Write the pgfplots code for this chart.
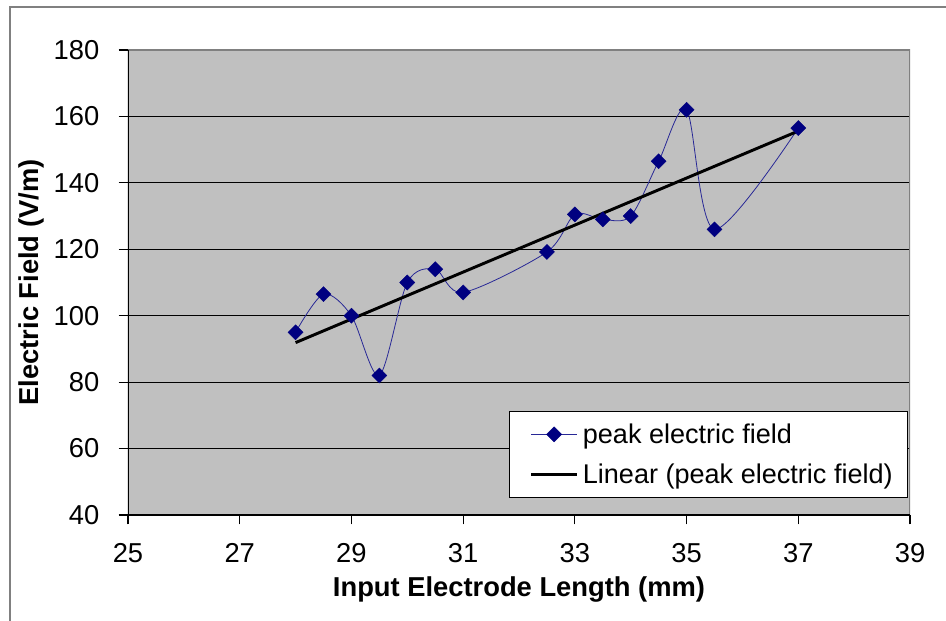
\documentclass[border=0pt]{standalone}
\usepackage{pgfplots}
\pgfplotsset{compat=1.18}
\usepackage{fontspec}
\setmainfont{Liberation Sans}
\definecolor{navyc}{RGB}{0,0,128}
\definecolor{lineblue}{RGB}{40,40,150}
\definecolor{silverbg}{RGB}{192,192,192}
\definecolor{plotborder}{RGB}{128,128,128}
\begin{document}
\begin{tikzpicture}[x=1pt,y=1pt]
\useasboundingbox (0,0) rectangle (709.5,465.75);
\draw[plotborder, line width=0.9pt] (7.5,-20) -- (7.5,460.5) -- (740,460.5);
\begin{axis}[
  at={(96pt,79.5pt)}, anchor=south west,
  scale only axis, width=586.5pt, height=348.75pt,
  xmin=25, xmax=39, ymin=40, ymax=180,
  xtick={25,27,...,39}, ytick={40,60,...,180},
  axis background/.style={fill=silverbg},
  axis line style={draw=none},
  ymajorgrids, grid style={black, line width=0.7pt},
  tick align=outside, tick style={black, line width=0.8pt},
  major tick length=7pt,
  xtick pos=bottom, ytick pos=left,
  /pgf/number format/assume math mode=true,
  ticklabel style={font=\fontsize{20.5}{24}\selectfont},
  xticklabel style={yshift=-11pt},
  yticklabel style={xshift=-11pt},
  xlabel={\textbf{Input Electrode Length (mm)}},
  ylabel={\textbf{Electric Field (V/m)}},
  label style={font=\fontsize{20.5}{24}\selectfont},
  xlabel style={yshift=-3pt},
  ylabel style={yshift=0pt},
  legend style={at={(0.9974,0.0366)}, anchor=south east,
    draw=black, line width=0.8pt, fill=white,
    font=\fontsize{20.3}{24}\selectfont,
    inner xsep=9pt, inner ysep=7pt, row sep=10pt},
  legend cell align=left,
  legend image code/.code={
    \path (-6pt,0pt) (35.5pt,0pt);
    \draw[mark repeat=2, mark phase=2, #1] plot coordinates {(0pt,0pt) (17pt,0pt) (34pt,0pt)};
  },
]
% plot area border (gray) and black axes
\draw[plotborder, line width=0.8pt] (rel axis cs:0,1) -- (rel axis cs:1,1) -- (rel axis cs:1,0);
\draw[black, line width=0.8pt] (rel axis cs:0,1) -- (rel axis cs:0,0) -- (rel axis cs:1,0);
\addplot[color=lineblue, line width=0.6pt, smooth, tension=0.5,
  mark=square*, mark size=4pt,
  mark options={rotate=45, fill=navyc, draw=navyc, line width=0.3pt, solid}]
  coordinates {
  (28,95) (28.5,106.5) (29,100) (29.5,82) (30,110) (30.5,114) (31,107)
  (32.5,119.2) (33,130.5) (33.5,129) (34,130) (34.5,146.5) (35,162)
  (35.5,126) (37,156.5)
  };
\addlegendentry{peak electric field}
\addplot[black, line width=2.2pt] coordinates {(28,91.9) (37,155.6)};
\addlegendentry{Linear (peak electric field)}
\end{axis}
\end{tikzpicture}
\end{document}
